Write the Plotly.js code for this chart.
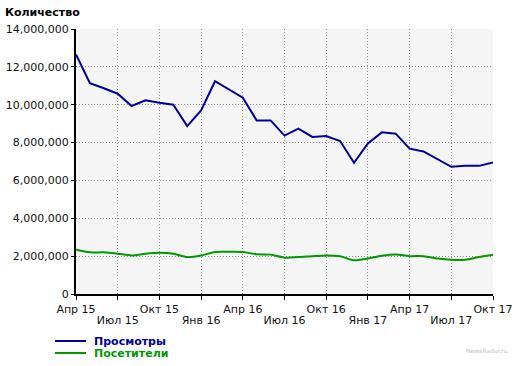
<!DOCTYPE html>
<html>
<head>
<meta charset="utf-8">
<script src="https://cdn.plot.ly/plotly-3.0.1.min.js"></script>
<style>html,body{margin:0;padding:0;background:#fff;}#chart{width:520px;height:366px;}</style>
</head>
<body>
<div id="chart"></div>
<script>
var months = ["Апр 15","Май 15","Июн 15","Июл 15","Авг 15","Сен 15","Окт 15","Ноя 15","Дек 15",
  "Янв 16","Фев 16","Мар 16","Апр 16","Май 16","Июн 16","Июл 16","Авг 16","Сен 16","Окт 16","Ноя 16","Дек 16",
  "Янв 17","Фев 17","Мар 17","Апр 17","Май 17","Июн 17","Июл 17","Авг 17","Сен 17","Окт 17"];
var views = [12650000,11140000,10870000,10580000,9930000,10230000,10100000,10000000,8870000,
  9700000,11240000,10790000,10370000,9170000,9170000,8370000,8740000,8300000,8350000,8080000,6930000,
  7950000,8540000,8470000,7680000,7530000,7120000,6720000,6770000,6770000,6950000];
var visitors = [2340000,2200000,2200000,2130000,2040000,2130000,2180000,2130000,1950000,
  2030000,2220000,2230000,2220000,2100000,2080000,1920000,1950000,2000000,2040000,2000000,1780000,
  1880000,2020000,2090000,2000000,2000000,1880000,1810000,1810000,1950000,2080000];
var tickMonths = ["Апр 15","Июл 15","Окт 15","Янв 16","Апр 16","Июл 16","Окт 16","Янв 17","Апр 17","Июл 17","Окт 17"];
var upperTicks = ["Апр 15","Окт 15","Апр 16","Окт 16","Апр 17","Окт 17"];
var lowerTicks = ["Июл 15","Янв 16","Июл 16","Янв 17","Июл 17"];
var seriesNames = ["Просмотры","Посетители"];
var colors = ["#000099","#009900"];

var upperText = tickMonths.map(function(t){ return upperTicks.indexOf(t) >= 0 ? t : ""; });

var traces = [
  {x: months, y: views, type: "scatter", mode: "lines", name: seriesNames[0],
   line: {color: colors[0], width: 2}, showlegend: false},
  {x: months, y: visitors, type: "scatter", mode: "lines", name: seriesNames[1],
   line: {color: colors[1], width: 2, shape: "spline", smoothing: 0.8}, showlegend: false},
  {x: months, y: visitors, xaxis: "x2", type: "scatter", mode: "lines", name: "",
   line: {color: "rgba(0,0,0,0)", width: 0}, showlegend: false, hoverinfo: "skip"}
];

var grid = {showgrid: true, gridcolor: "#8a8a8a", griddash: "1px,2px", gridwidth: 1};

var layout = {
  width: 520, height: 366,
  margin: {l: 76, r: 27, t: 29, b: 72},
  paper_bgcolor: "#ffffff",
  plot_bgcolor: "#f5f5f5",
  font: {family: "DejaVu Sans, sans-serif", size: 11, color: "#111"},
  title: {text: "<b>Количество</b>", x: 5/520, xanchor: "left", xref: "container",
          y: 1 - 12/366, yanchor: "middle", yref: "container",
          font: {family: "DejaVu Sans, sans-serif", size: 11, color: "#000"}},
  xaxis: Object.assign({type: "category", range: [0, 30], tickmode: "array", tickvals: tickMonths, ticktext: upperText,
          showline: true, linecolor: "#000", linewidth: 2, ticks: "outside", ticklen: 4, tickcolor: "#000", tickwidth: 1,
          tickangle: 0, tickfont: {size: 11, color: "#111"}, fixedrange: true}, grid),
  xaxis2: {type: "category", range: [0, 30], overlaying: "x", side: "bottom", anchor: "y",
          tickmode: "array", tickvals: lowerTicks, ticktext: lowerTicks,
          showline: false, showgrid: false, zeroline: false, ticks: "outside", ticklen: 4, tickcolor: "rgba(0,0,0,0)",
          ticklabelstandoff: 12, tickangle: 0, tickfont: {size: 11, color: "#111"}, fixedrange: true},
  yaxis: Object.assign({range: [0, 14000000], tickmode: "linear", tick0: 0, dtick: 2000000, tickformat: ",d",
          showline: true, linecolor: "#000", linewidth: 2, ticks: "outside", ticklen: 3, tickcolor: "#000",
          zeroline: false, tickfont: {size: 11, color: "#111"}, fixedrange: true}, grid),
  shapes: [
    {type: "line", xref: "paper", yref: "paper", x0: -21/417, x1: 10/417, y0: -47/265, y1: -47/265,
     line: {color: colors[0], width: 2}},
    {type: "line", xref: "paper", yref: "paper", x0: -21/417, x1: 10/417, y0: -59/265, y1: -59/265,
     line: {color: colors[1], width: 2}}
  ],
  annotations: [
    {xref: "paper", yref: "paper", x: 17/417, y: -47/265, xanchor: "left", yanchor: "middle", showarrow: false,
     text: "<b>" + seriesNames[0] + "</b>", font: {size: 11, color: colors[0]}, height: 11, borderpad: 0},
    {xref: "paper", yref: "paper", x: 17/417, y: -59/265, xanchor: "left", yanchor: "middle", showarrow: false,
     text: "<b>" + seriesNames[1] + "</b>", font: {size: 11, color: colors[1]}, height: 11, borderpad: 0},
    {xref: "paper", yref: "paper", x: 1.04, y: -56/265, xanchor: "right", yanchor: "middle", showarrow: false,
     text: "NewsRadar.ru", font: {size: 6, color: "#b8c4c8"}}
  ]
};

Plotly.newPlot("chart", traces, layout, {displayModeBar: false, staticPlot: true});
</script>
</body>
</html>
